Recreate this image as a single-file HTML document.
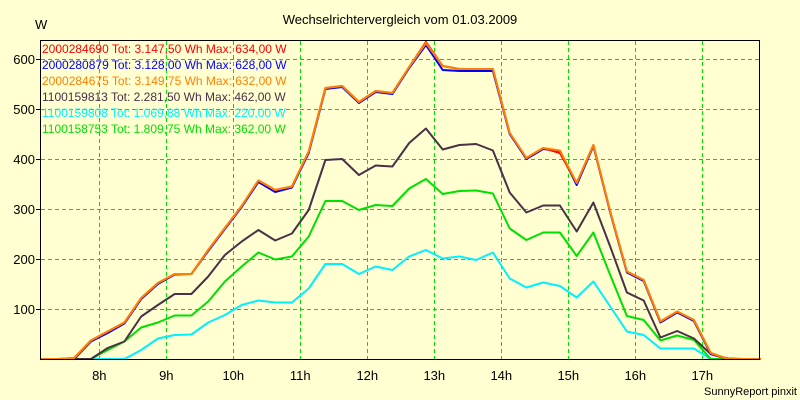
<!DOCTYPE html>
<html><head><meta charset="utf-8"><style>
body{margin:0;background:#ffffd2;}
svg{display:block;font-family:"Liberation Sans",sans-serif;}
</style></head><body>
<svg id="chart" width="800" height="400">
<rect width="800" height="400" fill="#ffffd2"/>
<text x="400" y="24" text-anchor="middle" font-size="13" fill="#000">Wechselrichtervergleich vom 01.03.2009</text>
<text x="35" y="29" font-size="13" fill="#000">W</text>
<text x="797" y="395" text-anchor="end" font-size="11" fill="#000">SunnyReport pinxit</text>
<g id="grid"></g>
<g id="series"></g>
<rect x="40.5" y="40.5" width="719" height="319" fill="none" stroke="#000" stroke-width="1"/>
<g id="axes"></g>
<g id="legend"></g>
</svg>
<script>
const hourTicks=[8,9,10,11,12,13,14,15,16,17];
const yTicks=[100,200,300,400,500,600];
const seriesNames=["2000284690","2000280879","2000284675","1100159813","1100159808","1100158753"];
const seriesTot=["3.147,50","3.128,00","3.149,75","2.281,50","1.069,88","1.809,75"];
const seriesMax=["634,00","628,00","632,00","462,00","220,00","362,00"];
const seriesColors=["#ff0000","#0000ff","#ff8000","#4a3048","#00f0ff","#00e000"];
const startHour=7.125, stepHour=0.25;
const red=[0,0,2,37,55,73,122,152,170,170,218,262,306,357,338,345,415,542,546,514,536,532,584,634,586,580,580,580,452,402,422,412,352,428,295,175,158,75,95,78,12,0,0,0];
const blue=[0,0,0,35,52,71,120,150,169,170,216,260,304,354,334,343,412,540,544,512,534,530,582,628,578,576,576,576,450,400,420,416,348,426,293,173,156,73,93,76,10,0,0,0];
const orange=[0,0,2,37,55,73,122,152,170,170,218,262,306,357,338,345,415,542,546,514,536,532,584,632,586,580,580,580,452,402,422,417,352,428,295,175,158,75,95,78,12,0,0,0];
const dark=[0,0,0,0,22,35,85,108,130,130,165,208,235,258,237,251,298,398,400,368,387,385,432,461,419,428,430,417,333,293,307,307,255,313,225,133,117,43,56,41,10,1,0,0];
const cyan=[0,0,0,0,0,0,18,41,48,49,73,88,108,117,113,113,141,190,190,170,185,178,205,218,201,205,198,213,161,143,153,146,123,155,105,55,48,21,21,21,0,0,0,0];
const green=[0,0,0,0,18,35,63,73,87,87,115,155,185,213,199,205,245,316,316,298,308,306,341,360,330,336,337,331,261,238,253,253,206,253,168,86,78,37,47,38,0,0,0,0];
const seriesData=[red,blue,orange,dark,cyan,green];

const NS="http://www.w3.org/2000/svg";
const X0=99.3, PXH=67.0, Y0=359, PXV=0.5;
function xs(h){return X0+(h-8)*PXH;}
function ys(v){return Y0-v*PXV;}
function mk(tag,attrs,parent){const e=document.createElementNS(NS,tag);for(const k in attrs)e.setAttribute(k,attrs[k]);parent.appendChild(e);return e;}
const grid=document.getElementById('grid'),axes=document.getElementById('axes'),sg=document.getElementById('series'),lg=document.getElementById('legend');
hourTicks.forEach(h=>{
  const x=Math.round(xs(h))+0.5;
  const l=mk('line',{x1:x,x2:x,y1:41,y2:359,stroke:'#00dd00','stroke-dasharray':'4,3'},grid);
  
  
  const t=mk('text',{x:xs(h),y:380,'text-anchor':'middle','font-size':13},axes);
  t.textContent=h+'h';
  
  
});
yTicks.forEach(v=>{
  const y=Math.round(ys(v))+0.5;
  const l=mk('line',{x1:41,x2:759,y1:y,y2:y,stroke:'#00dd00','stroke-dasharray':'4,3'},grid);
  
  
  const tk=mk('line',{x1:36,x2:40,y1:y,y2:y,stroke:'#000'},axes);
  
  
  const t=mk('text',{x:35,y:ys(v)+5,'text-anchor':'end','font-size':13},axes);
  t.textContent=v;
  
  
});
const order=[4,5,3,1,0,2];
order.forEach(si=>{
  const d=seriesData[si];
  const pts=d.map((v,i)=>xs(startHour+i*stepHour).toFixed(1)+','+ys(v).toFixed(1)).join(' ');
  const p=mk('polyline',{points:pts,fill:'none',stroke:seriesColors[si],'stroke-width':2,'stroke-linejoin':'round'},sg);
  
  
});
seriesNames.forEach((n,i)=>{
  const t=mk('text',{x:42,y:53+i*16,'font-size':12,fill:seriesColors[i]},lg);
  t.textContent=n+' Tot: '+seriesTot[i]+' Wh Max: '+seriesMax[i]+' W';
  
  
});
</script>
</body></html>
